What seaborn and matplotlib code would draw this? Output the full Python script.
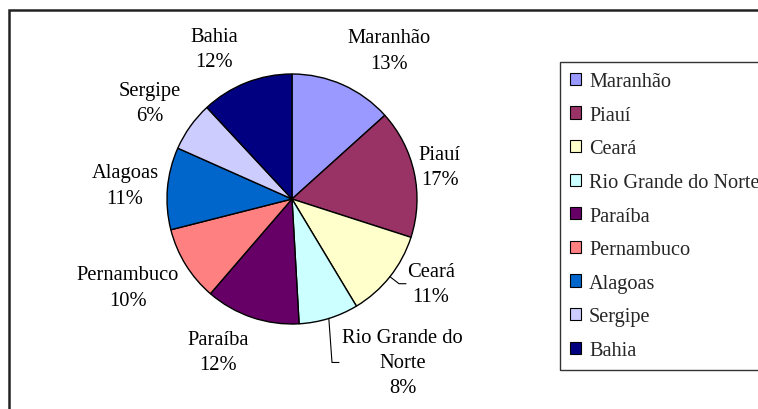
import numpy as np
import matplotlib
matplotlib.use("Agg")
import matplotlib.pyplot as plt
import seaborn as sns
from matplotlib.patches import Rectangle

# ---- data ----
states = ["Maranhão", "Piauí", "Ceará", "Rio Grande do Norte", "Paraíba",
          "Pernambuco", "Alagoas", "Sergipe", "Bahia"]
shares = [13.3, 16.6, 11.4, 7.7, 12.2, 9.7, 10.6, 6.4, 11.9]
label_names = ["Maranhão", "Piauí", "Ceará", "Rio Grande do\nNorte", "Paraíba",
               "Pernambuco", "Alagoas", "Sergipe", "Bahia"]
colors = ["#9999FF", "#993366", "#FFFFCC", "#CCFFFF", "#660066",
          "#FF8080", "#0066CC", "#CCCCFF", "#000080"]

# ---- layout (label radius and angle shift relative to wedge middle) ----
lab_r = [1.42, 1.21, 1.30, 1.58, 1.36, 1.49, 1.34, 1.37, 1.35]
lab_shift = [-9.3, 0.0, 7.0, 17.0, -7.0, -3.4, 0.2, 1.5, 6.0]
leaders = {"Ceará": (0.856, 0.912), "Rio Grande do Norte": (0.32, 0.376)}

sns.set_theme(style="white")
plt.rcParams["font.family"] = ["Liberation Serif", "DejaVu Serif"]
FS = 14.8
LFS = 14.6

W, H = 758, 410
fig = plt.figure(figsize=(W / 100, H / 100), dpi=100)
fig.patch.set_facecolor("white")

# outer chart border
fig.patches.append(Rectangle((9 / W, -0.1), 1.2, 1.1 - 11 / H,
                             transform=fig.transFigure, fill=False,
                             edgecolor="#222222", linewidth=1.8, zorder=0))

cx, cy, R = 292, 200, 125
ax = fig.add_axes([(cx - R) / W, (H - cy - R) / H, 2 * R / W, 2 * R / H])
ax.axis("off")

wedges, _ = ax.pie(shares, colors=colors, startangle=90, counterclock=False,
                   radius=1, wedgeprops=dict(edgecolor="black", linewidth=1.0))
ax.set_xlim(-1, 1)
ax.set_ylim(-1, 1)
ax.set_aspect("equal")

total = sum(shares)
for i, w in enumerate(wedges):
    mid = np.deg2rad((w.theta1 + w.theta2) / 2)
    ang = mid + np.deg2rad(lab_shift[i])
    lx, ly = lab_r[i] * np.cos(ang), lab_r[i] * np.sin(ang)
    pct = 100 * shares[i] / total
    ax.text(lx, ly, f"{label_names[i]}\n{pct:.0f}%", ha="center", va="center",
            fontsize=FS, color="black", linespacing=1.45, clip_on=False)
    if states[i] in leaders:
        ex, endx = leaders[states[i]]
        ax.plot([np.cos(mid), ex, endx], [np.sin(mid), ly, ly],
                color="black", linewidth=0.8, clip_on=False)

leg = fig.legend(wedges, states, loc="upper left",
                 bbox_to_anchor=(560 / W, 1 - 63 / H),
                 bbox_transform=fig.transFigure,
                 fontsize=LFS, frameon=True, fancybox=False, shadow=False,
                 handlelength=0.55, handleheight=0.55, handletextpad=0.38,
                 labelspacing=0.72, borderpad=0.5, borderaxespad=0)
frame = leg.get_frame()
frame.set_edgecolor("black")
frame.set_linewidth(1.0)
frame.set_facecolor("white")
for h in leg.legend_handles:
    h.set_edgecolor("black")
    h.set_linewidth(0.8)

fig.savefig("out.png", dpi=100, facecolor="white")
